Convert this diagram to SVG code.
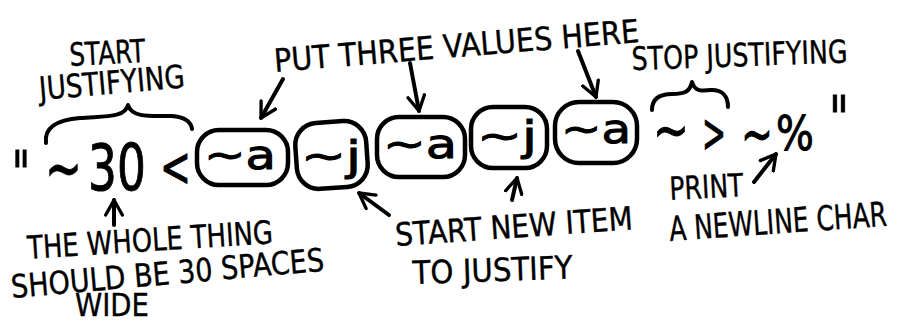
<svg xmlns="http://www.w3.org/2000/svg" width="904" height="324" viewBox="0 0 904 324">
<style>
.t{font-family:"DejaVu Sans","Liberation Sans",sans-serif;fill:#000;stroke:#000;stroke-width:0.4;stroke-linejoin:round}
.lbl{font-size:32px}
.big{font-family:"DejaVu Sans","Liberation Sans",sans-serif;fill:#000;stroke:#000;stroke-width:1}
.box{fill:none;stroke:#000;stroke-width:4.5}
.ln{fill:none;stroke:#000;stroke-width:4;stroke-linecap:round;stroke-linejoin:round}
</style>
<defs>
<marker id="ah" viewBox="0 0 12 12" refX="10" refY="6" markerWidth="5" markerHeight="5" orient="auto" markerUnits="strokeWidth">
<path d="M1,1 L10,6 L1,11" fill="none" stroke="#000" stroke-width="2" stroke-linecap="round" stroke-linejoin="round"/>
</marker>
</defs>
<rect width="904" height="324" fill="#fff"/>

<g id="format-string">
<text class="big" font-size="62" transform="translate(12 196) scale(0.63 1)">"</text>
<text class="big" font-size="70" transform="translate(45 192) scale(0.63 1)">~</text>
<text class="big" font-size="64" transform="translate(88 190) scale(0.71 1)">30</text>
<text class="big" font-size="56" transform="translate(160 186) scale(0.66 1)">&lt;</text>
<text class="big" font-size="58" transform="translate(653 150) scale(0.74 1)">~</text>
<text class="big" font-size="56" transform="translate(702 152) scale(0.51 1)">&gt;</text>
<text class="big" font-size="56" transform="translate(741 154) scale(0.68 1)">~</text>
<text class="big" font-size="48" transform="translate(776 150) scale(0.83 1)">%</text>
<text class="big" font-size="62" transform="translate(829 141) scale(0.7 1)">"</text>
</g>

<g id="box1">
<rect class="box" x="197" y="130" width="91" height="55" rx="22"/>
<text class="big" x="204" y="169" font-size="40" textLength="72" lengthAdjust="spacingAndGlyphs">~a</text>
</g>
<g id="box2">
<rect class="box" x="296" y="122" width="71" height="66" rx="22" transform="rotate(-4 331 155)"/>
<text class="big" x="301" y="170" font-size="40" textLength="60" lengthAdjust="spacingAndGlyphs">~j</text>
</g>
<g id="box3">
<rect class="box" x="377" y="117" width="88" height="60" rx="22"/>
<text class="big" x="383" y="158" font-size="40" textLength="74" lengthAdjust="spacingAndGlyphs">~a</text>
</g>
<g id="box4">
<rect class="box" x="471" y="107" width="76" height="61" rx="22"/>
<text class="big" x="477" y="150" font-size="40" textLength="60" lengthAdjust="spacingAndGlyphs">~j</text>
</g>
<g id="box5">
<rect class="box" x="555" y="102" width="82" height="61" rx="24"/>
<text class="big" x="561" y="143" font-size="40" textLength="70" lengthAdjust="spacingAndGlyphs">~a</text>
</g>

<g id="label-start">
<text class="t lbl" x="70" y="66" font-size="30" textLength="76" lengthAdjust="spacingAndGlyphs" transform="rotate(-3 70 66)">START</text>
<text class="t lbl" x="40" y="100" textLength="146" lengthAdjust="spacingAndGlyphs" transform="rotate(-5 40 100)">JUSTIFYING</text>
</g>
<g id="label-put">
<text class="t lbl" x="275" y="72" font-size="34" textLength="366" lengthAdjust="spacingAndGlyphs" transform="rotate(-4.7 275 72)">PUT THREE VALUES HERE</text>
</g>
<g id="label-stop">
<text class="t lbl" x="632" y="70" textLength="216" lengthAdjust="spacingAndGlyphs" transform="rotate(-2 632 70)">STOP JUSTIFYING</text>
</g>
<g id="label-print">
<text class="t lbl" x="670" y="200" textLength="74" lengthAdjust="spacingAndGlyphs" transform="rotate(-3 670 200)">PRINT</text>
<text class="t" font-size="34" transform="rotate(-4 670 241) translate(670 241) scale(0.733 1)">A NEWLINE CHAR</text>
</g>
<g id="label-newitem">
<text class="t lbl" x="396" y="246" textLength="238" lengthAdjust="spacingAndGlyphs" transform="rotate(-4 396 246)">START NEW ITEM</text>
<text class="t lbl" x="413" y="284" textLength="160" lengthAdjust="spacingAndGlyphs" transform="rotate(-2 413 284)">TO JUSTIFY</text>
</g>
<g id="label-whole">
<text class="t lbl" x="28" y="259" font-size="34" textLength="246" lengthAdjust="spacingAndGlyphs" transform="rotate(-3.7 28 259)">THE WHOLE THING</text>
<text class="t lbl" x="12" y="298" font-size="34" textLength="314" lengthAdjust="spacingAndGlyphs" transform="rotate(-5 12 298)">SHOULD BE 30 SPACES</text>
<text class="t lbl" x="75" y="316" font-size="29" textLength="74" lengthAdjust="spacingAndGlyphs">WIDE</text>
</g>

<g id="connectors">
<path class="ln" d="M46,143 C44,128 56,120 80,118 C105,116 125,118 128,105 C132,118 150,116 172,116 C186,117 191,122 192,129"/>
<path class="ln" d="M652,110 C652,98 660,94 672,94 C684,94 690,92 692,82 C695,92 702,91 712,90 C722,90 728,96 728,107"/>
<path class="ln" marker-end="url(#ah)" d="M283,79 L261,118"/>
<path class="ln" marker-end="url(#ah)" d="M410,63 L419,111"/>
<path class="ln" marker-end="url(#ah)" d="M578,51 L596,97"/>
<path class="ln" marker-end="url(#ah)" d="M114,225 L114,200"/>
<path class="ln" marker-end="url(#ah)" d="M389,215 L359,193"/>
<path class="ln" marker-end="url(#ah)" d="M512,200 L517,178"/>
<path class="ln" marker-end="url(#ah)" d="M754,182 L776,154"/>
</g>
</svg>
